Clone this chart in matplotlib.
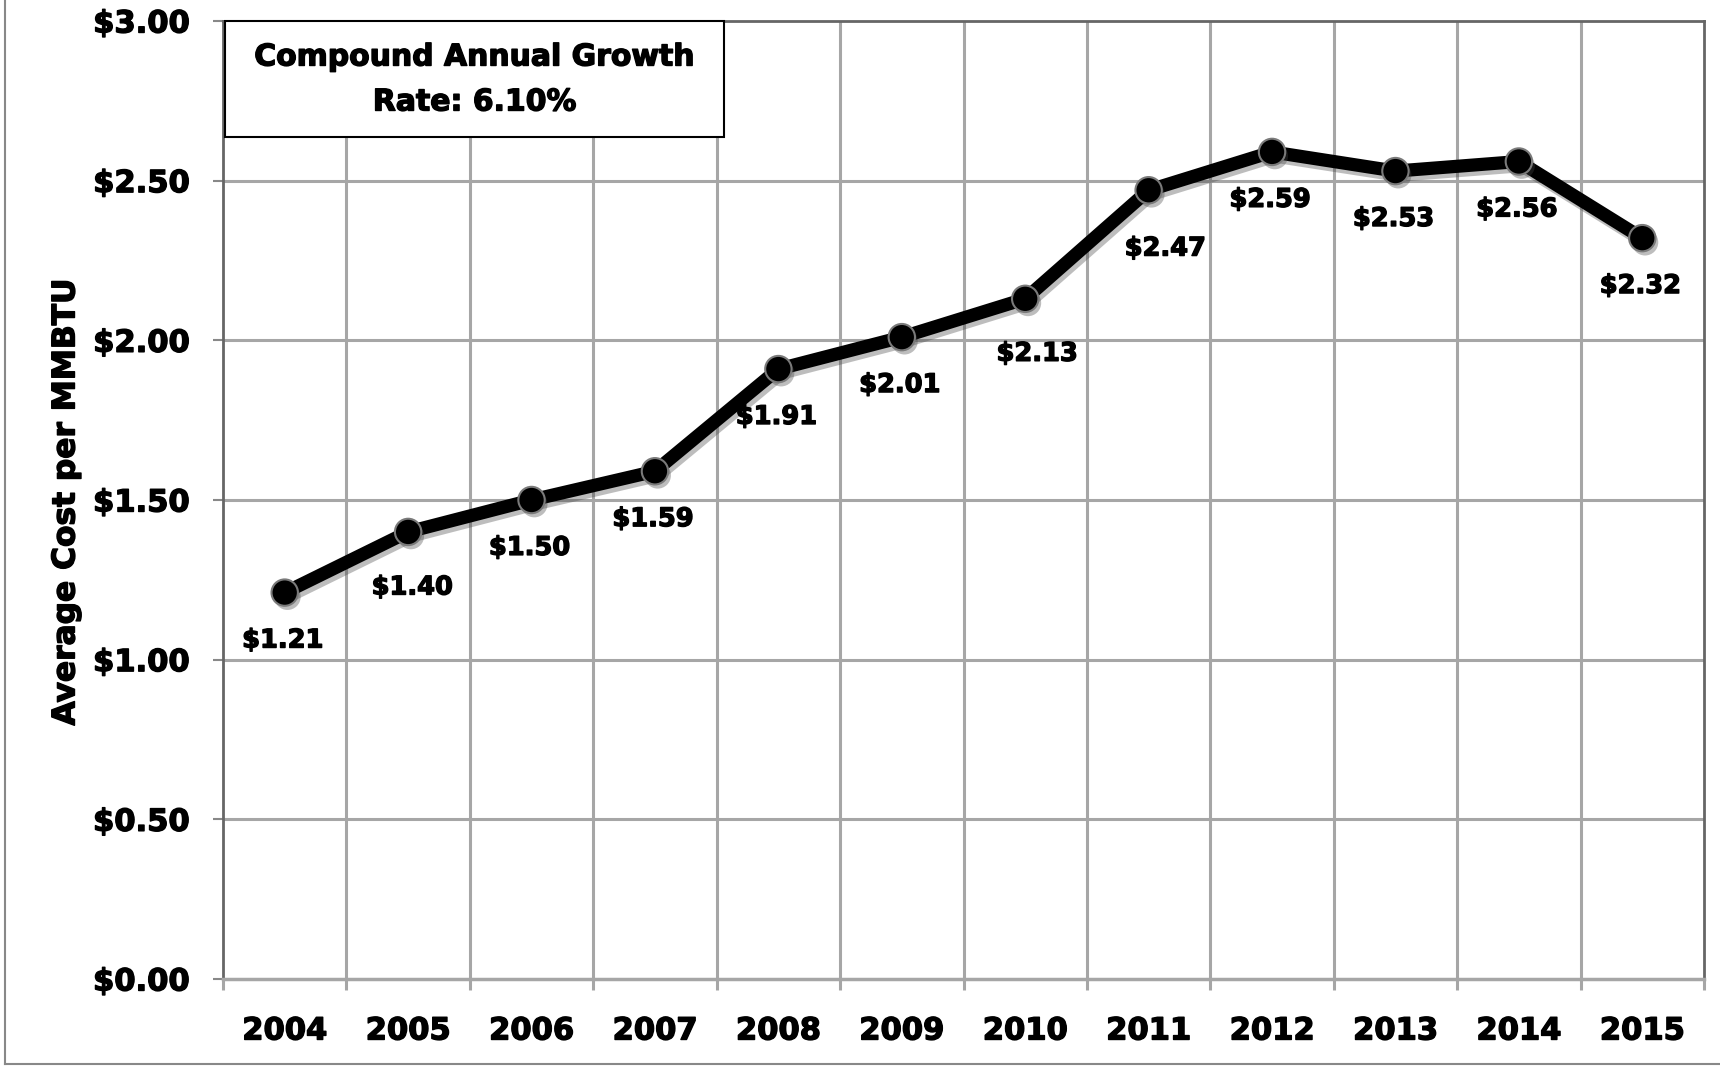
import matplotlib
matplotlib.use('Agg')
import matplotlib.pyplot as plt
import matplotlib.patheffects as pe
from matplotlib.patches import Rectangle
from matplotlib.lines import Line2D
import numpy as np

years = ['2004', '2005', '2006', '2007', '2008', '2009', '2010',
         '2011', '2012', '2013', '2014', '2015']
costs = [1.21, 1.40, 1.50, 1.59, 1.91, 2.01, 2.13, 2.47, 2.59, 2.53, 2.56, 2.32]
ytick_values = [0.0, 0.5, 1.0, 1.5, 2.0, 2.5, 3.0]
ytick_labels = ['$0.00', '$0.50', '$1.00', '$1.50', '$2.00', '$2.50', '$3.00']
y_label = 'Average Cost per MMBTU'
box_lines = ['Compound Annual Growth', 'Rate: 6.10%']

FONT = 'DejaVu Sans'
HEAVY = [pe.withStroke(linewidth=1.0, foreground='black')]
W, H = 1720, 1066
fig = plt.figure(figsize=(W / 100, H / 100), dpi=100)
fig.patch.set_facecolor('white')

L, R, T, B = 223, 1704, 21, 979
ax = fig.add_axes([L / W, 1 - B / H, (R - L) / W, (B - T) / H])

x = np.arange(len(years))
ax.set_xlim(-0.5, len(years) - 0.5)
ax.set_ylim(0, 3.0)

# grid
grid_col = '#a6a6a6'
for yv in ytick_values[1:-1]:
    ax.axhline(yv, color=grid_col, lw=2.2, zorder=1)
for b in np.arange(0.5, len(years) - 0.5, 1.0):
    ax.axvline(b, color=grid_col, lw=2.2, zorder=1)

ax.plot(x, costs, color='black', lw=9.5, solid_joinstyle='round', zorder=3,
        path_effects=[pe.SimpleLineShadow(offset=(2, -3), shadow_color='#444444', alpha=0.35),
                      pe.Normal()])
ax.plot(x, costs, 'o', ms=19, mfc='black', mec='#7a7a7a', mew=1.5, zorder=4,
        path_effects=[pe.SimplePatchShadow(offset=(2, -3), shadow_rgbFace='#444444', alpha=0.35),
                      pe.Normal()])

# label offsets (points) - a few labels nudged as in the original
label_offsets = [(-1.4, -34.5)] * len(years)
label_offsets[1] = (3, -40)
label_offsets[6] = (8.6, -39.6)
label_offsets[7] = (12, -42)
for xi, v, off in zip(x, costs, label_offsets):
    ax.annotate(f'${v:.2f}', (xi, v), xytext=off, textcoords='offset points',
                ha='center', va='center', fontsize=18.5, fontweight='bold',
                family=FONT, color='black', zorder=5, path_effects=HEAVY)

# ticks
ax.set_yticks(ytick_values)
ax.set_yticklabels(ytick_labels)
ax.tick_params(axis='y', length=7, width=1.5, color='#888888', pad=17,
               labelsize=22)
ax.set_xticks(x)
ax.set_xticklabels(years)
ax.set_xticks(np.arange(-0.5, len(years), 1.0), minor=True)
ax.tick_params(axis='x', which='major', length=0, pad=27, labelsize=22)
ax.tick_params(axis='x', which='minor', length=8, width=2.2, color=grid_col)
for lab in ax.get_xticklabels() + ax.get_yticklabels():
    lab.set_fontweight('bold')
    lab.set_family(FONT)
    lab.set_path_effects(HEAVY)

for side in ['left', 'top', 'right']:
    ax.spines[side].set_color('#666666')
    ax.spines[side].set_linewidth(2)
ax.spines['bottom'].set_color(grid_col)
ax.spines['bottom'].set_linewidth(2.5)

fig.text(66 / W, 1 - 502 / H, y_label, rotation=90, ha='center', va='center',
         fontsize=22.5, fontweight='bold', family=FONT, path_effects=HEAVY)

# annotation box
bx0, bx1, by0, by1 = 225, 724, 21, 137
fig.add_artist(Rectangle((bx0 / W, 1 - by1 / H), (bx1 - bx0) / W, (by1 - by0) / H,
                         transform=fig.transFigure, facecolor='white',
                         edgecolor='black', lw=1.5, zorder=10))
cx = (bx0 + bx1) / 2 / W
fig.text(cx, 1 - 57 / H, box_lines[0], ha='center', va='center', fontsize=21.5,
         fontweight='bold', family=FONT, zorder=11, path_effects=HEAVY)
fig.text(cx, 1 - 102 / H, box_lines[1], ha='center', va='center', fontsize=21.5,
         fontweight='bold', family=FONT, zorder=11, path_effects=HEAVY)

# outer border
fig.add_artist(Line2D([5 / W, 5 / W], [2 / H, 1.0], transform=fig.transFigure,
                      color='#888888', lw=1.5))
fig.add_artist(Line2D([5 / W, 1.0], [2 / H, 2 / H], transform=fig.transFigure,
                      color='#888888', lw=1.5))

fig.savefig('out.png', dpi=100)
